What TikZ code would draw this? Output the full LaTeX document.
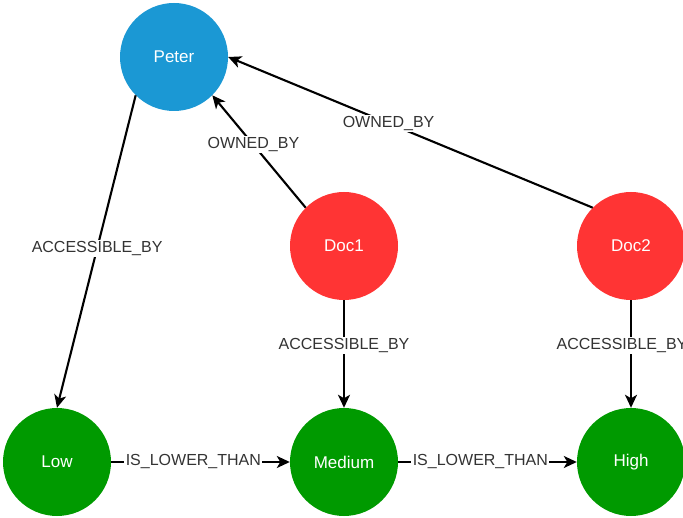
\documentclass[tikz,border=0pt]{standalone}
\usepackage{fontspec}
\setmainfont{Liberation Sans}
\usetikzlibrary{arrows.meta}
\definecolor{personblue}{HTML}{1B98D4}
\definecolor{docred}{HTML}{FF3434}
\definecolor{levelgreen}{HTML}{009A00}
\definecolor{labelgray}{HTML}{333333}
\tikzset{
  entity/.style={circle, minimum size=108pt, inner sep=0pt, text=white,
    font=\fontsize{17}{20}\selectfont},
  person/.style={entity, fill=personblue},
  document/.style={entity, fill=docred},
  level/.style={entity, fill=levelgreen},
  rel/.style={line width=2.1pt, draw=black,
    -{Stealth[length=13pt,width=12pt,inset=3.5pt]}},
  rellabel/.style={fill=white, inner sep=1.5pt, text=labelgray,
    font=\fontsize{16}{18}\selectfont}
}
\begin{document}
\begin{tikzpicture}[x=1pt,y=-1pt]
  \clip (0,0) rectangle (683,518);
  \fill[white] (0,0) rectangle (683,518);

  \node[person]   (peter)  at (174,57)  {Peter};
  \node[document] (doc1)   at (344,246) {Doc1};
  \node[document] (doc2)   at (631,246) {Doc2};
  \node[level]    (low)    at (57,462)  {Low};
  \node[level]    (medium) at (344,462) {Medium};
  \node[level]    (high)   at (631,462) {High};

  \draw[rel] (peter.225) -- node[rellabel, pos=0.49] {ACCESSIBLE\_BY} (low.north);
  \draw[rel] (doc1.135) -- node[rellabel, pos=0.56] {OWNED\_BY} (peter.-45);
  \draw[rel] (doc2.135) -- node[rellabel, pos=0.56] {OWNED\_BY} (peter.east);
  \draw[rel] (doc1.south) -- node[rellabel, pos=0.42] {ACCESSIBLE\_BY} (medium.north);
  \draw[rel] (doc2.south) -- node[rellabel, pos=0.42, xshift=-9pt] {ACCESSIBLE\_BY} (high.north);
  \draw[rel] (low.east) -- node[rellabel, pos=0.46] {IS\_LOWER\_THAN} (medium.west);
  \draw[rel] (medium.east) -- node[rellabel, pos=0.46] {IS\_LOWER\_THAN} (high.west);
\end{tikzpicture}
\end{document}
